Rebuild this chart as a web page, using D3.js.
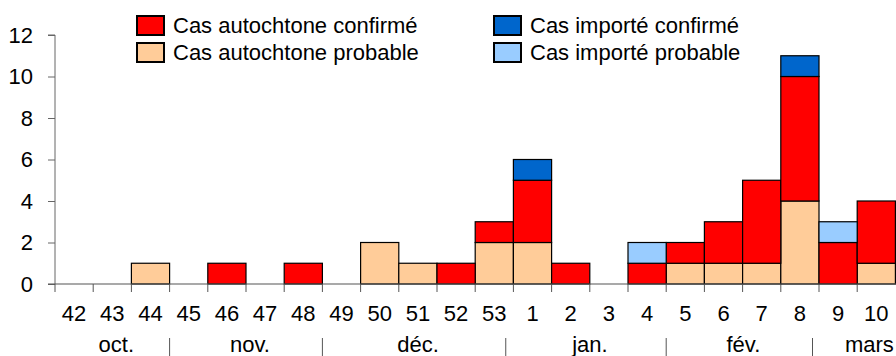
<!DOCTYPE html>
<html lang="fr">
<head>
  <meta charset="UTF-8">
  <title>Cas par semaine</title>
  <script src="https://d3js.org/d3.v7.min.js"></script>
  <style>
    body { margin: 0; background: #fff; }
    text { font-family: Arial, "Liberation Sans", sans-serif; fill: #000; }
  </style>
</head>
<body>
  <svg width="896" height="356"></svg>
<script>
  // semaines (oct. -> mars)
  const weeks = ["42","43","44","45","46","47","48","49","50","51","52","53","1","2","3","4","5","6","7","8","9","10"];
  const autoProbable  = [0,0,1,0,0,0,0,0,2,1,0,2,2,0,0,0,1,1,1,4,0,1];
  const autoConfirme  = [0,0,0,0,1,0,1,0,0,0,1,1,3,1,0,1,1,2,4,6,2,3];
  const impProbable   = [0,0,0,0,0,0,0,0,0,0,0,0,0,0,0,1,0,0,0,0,1,0];
  const impConfirme   = [0,0,0,0,0,0,0,0,0,0,0,0,1,0,0,0,0,0,0,1,0,0];
  const yTicks = [0, 2, 4, 6, 8, 10, 12];
  // mois, avec leurs limites en semaines depuis la sem. 42
  const months = ["oct.", "nov.", "déc.", "jan.", "fév.", "mars"];
  const monthBounds = [0, 3, 7, 11.8, 16, 19.83, 22.6];

  const series = [
    { key: "autoProbable", label: "Cas autochtone probable", color: "#FFCC99", values: autoProbable },
    { key: "autoConfirme", label: "Cas autochtone confirmé", color: "#FF0000", values: autoConfirme },
    { key: "impProbable",  label: "Cas importé probable",    color: "#99CCFF", values: impProbable },
    { key: "impConfirme",  label: "Cas importé confirmé",    color: "#0066CC", values: impConfirme }
  ];

  const svg = d3.select("svg");
  const plotL = 55, plotR = 895.4, plotT = 35, plotB = 284;

  const x = d3.scaleBand().domain(weeks).range([plotL, plotR]).padding(0);
  const y = d3.scaleLinear().domain([0, 12]).range([plotB, plotT]);
  const xw = d3.scaleLinear().domain([0, weeks.length]).range([plotL, plotR]);

  // table pour le stack
  const table = weeks.map((w, i) => {
    const row = { week: w };
    series.forEach(s => row[s.key] = s.values[i]);
    return row;
  });
  const stack = d3.stack().keys(series.map(s => s.key))(table);

  // barres
  svg.append("g").selectAll("g")
    .data(stack)
    .join("g")
    .attr("fill", (d, i) => series[i].color)
    .selectAll("rect")
    .data(d => d.filter(p => p[1] - p[0] > 0))
    .join("rect")
    .attr("x", d => x(d.data.week))
    .attr("width", x.bandwidth())
    .attr("y", d => y(d[1]))
    .attr("height", d => y(d[0]) - y(d[1]))
    .attr("stroke", "#000")
    .attr("stroke-width", 1.2);

  // axe y
  const yAxis = svg.append("g")
    .attr("transform", "translate(" + plotL + ",0)")
    .call(d3.axisLeft(y).tickValues(yTicks).tickSize(7).tickPadding(15));
  yAxis.select(".domain").attr("stroke", "#666").attr("d", "M-7," + y(12) + "H0V" + plotB);
  yAxis.selectAll(".tick line").attr("stroke", "#666");
  yAxis.selectAll("text").attr("font-size", 22).attr("font-family", "Arial, 'Liberation Sans', sans-serif");

  // axe x
  const xAxis = svg.append("g");
  xAxis.append("line")
    .attr("x1", plotL - 7).attr("x2", 896)
    .attr("y1", plotB).attr("y2", plotB)
    .attr("stroke", "#555").attr("stroke-width", 1.2);
  xAxis.selectAll("line.tk")
    .data(weeks)
    .join("line")
    .attr("class", "tk")
    .attr("x1", d => x(d)).attr("x2", d => x(d))
    .attr("y1", plotB).attr("y2", plotB + 8)
    .attr("stroke", "#555");
  xAxis.selectAll("text.wk")
    .data(weeks)
    .join("text")
    .attr("class", "wk")
    .attr("x", d => x(d) + x.bandwidth() / 2)
    .attr("y", 321)
    .attr("text-anchor", "middle")
    .attr("font-size", 22)
    .text(d => d);

  // mois
  svg.selectAll("line.sep")
    .data(monthBounds.slice(1, -1))
    .join("line")
    .attr("class", "sep")
    .attr("x1", d => xw(d)).attr("x2", d => xw(d))
    .attr("y1", 338).attr("y2", 356)
    .attr("stroke", "#555");
  svg.selectAll("text.mo")
    .data(months)
    .join("text")
    .attr("class", "mo")
    .attr("x", (d, i) => xw((monthBounds[i] + monthBounds[i + 1]) / 2) + 4)
    .attr("y", 352)
    .attr("text-anchor", "middle")
    .attr("font-size", 22)
    .text(d => d);

  // légende
  const legendItems = [series[1], series[3], series[0], series[2]];
  const leg = svg.append("g").selectAll("g")
    .data(legendItems)
    .join("g")
    .attr("transform", (d, i) => "translate(" + (i % 2 ? 494 : 137) + "," + (i < 2 ? 16 : 43) + ")");
  leg.append("rect")
    .attr("width", 27).attr("height", 19)
    .attr("fill", d => d.color)
    .attr("stroke", "#000").attr("stroke-width", 2);
  leg.append("text")
    .attr("x", 36).attr("y", 17)
    .attr("font-size", 22)
    .text(d => d.label);
</script>
</body>
</html>
